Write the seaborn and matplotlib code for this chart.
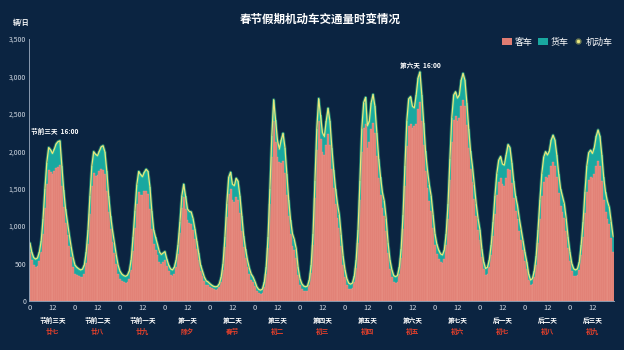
import numpy as np
import pandas as pd
import matplotlib
matplotlib.use("Agg")
import matplotlib.pyplot as plt
import matplotlib.transforms as mtrans
from matplotlib.patches import Patch
from matplotlib.lines import Line2D
import seaborn as sns

# ---------------- data ----------------
day_names = ["节前三天", "节前二天", "节前一天", "第一天", "第二天", "第三天", "第四天",
             "第五天", "第六天", "第七天", "后一天", "后二天", "后三天"]
lunar_names = ["廿七", "廿八", "廿九", "除夕", "春节", "初二", "初三",
               "初四", "初五", "初六", "初七", "初八", "初九"]
hour_tick_labels = ["0", "12"]

# hourly total motor-vehicle volume (机动车), one row per day, 24 hours each
motor_by_day = [
    [775, 650, 580, 560, 575, 650, 800, 1100, 1500, 1850, 2050, 2020, 1970, 2030, 2100, 2130, 2140, 1800, 1480, 1230, 1050, 880, 720, 580],
    [480, 450, 430, 415, 425, 480, 650, 950, 1400, 1800, 1995, 1960, 1940, 2000, 2060, 2075, 1990, 1730, 1400, 1140, 950, 780, 620, 480],
    [400, 360, 340, 330, 345, 400, 550, 850, 1200, 1550, 1730, 1690, 1660, 1720, 1760, 1730, 1520, 1200, 950, 850, 760, 660, 620, 640],
    [660, 560, 480, 430, 415, 450, 550, 750, 1050, 1400, 1560, 1400, 1230, 1195, 1190, 1100, 960, 800, 640, 480, 400, 320, 270, 255],
    [230, 210, 195, 190, 195, 230, 320, 500, 850, 1300, 1650, 1720, 1560, 1540, 1640, 1600, 1400, 1130, 870, 690, 550, 440, 360, 320],
    [260, 190, 155, 145, 160, 250, 450, 850, 1500, 2200, 2690, 2420, 2150, 2030, 2150, 2240, 2050, 1700, 1350, 1080, 900, 820, 700, 450],
    [300, 230, 200, 190, 200, 280, 480, 900, 1600, 2300, 2705, 2480, 2250, 2195, 2400, 2575, 2400, 2050, 1750, 1500, 1300, 1150, 880, 600],
    [420, 300, 240, 225, 240, 330, 550, 950, 1600, 2300, 2650, 2720, 2340, 2400, 2650, 2760, 2600, 2250, 1900, 1650, 1450, 1330, 1100, 780],
    [550, 420, 340, 325, 340, 450, 700, 1150, 1800, 2400, 2700, 2730, 2600, 2580, 2750, 2980, 3060, 2750, 2380, 2000, 1750, 1550, 1400, 1150],
    [900, 760, 680, 630, 615, 680, 900, 1300, 1900, 2450, 2750, 2795, 2710, 2750, 2950, 3040, 2950, 2650, 2300, 2000, 1800, 1550, 1300, 1100],
    [950, 700, 520, 435, 450, 550, 750, 1050, 1400, 1700, 1880, 1930, 1830, 1815, 1950, 2090, 2050, 1850, 1600, 1400, 1280, 1100, 950, 800],
    [650, 520, 360, 280, 300, 400, 600, 950, 1350, 1700, 1920, 1995, 1950, 2000, 2150, 2215, 2150, 1950, 1700, 1500, 1400, 1300, 1100, 850],
    [650, 500, 430, 415, 430, 520, 750, 1050, 1450, 1800, 1980, 2015, 1970, 2050, 2200, 2285, 2200, 1950, 1650, 1450, 1330, 1250, 1050, 860],
]

# hourly truck volume (货车)
truck_by_day = [
    [120, 105, 100, 100, 105, 120, 150, 200, 255, 290, 300, 300, 270, 290, 320, 340, 320, 270, 220, 190, 170, 150, 135, 125],
    [115, 100, 95, 95, 100, 115, 145, 190, 240, 270, 290, 290, 255, 270, 300, 320, 300, 255, 210, 175, 160, 145, 130, 120],
    [110, 95, 90, 90, 95, 105, 135, 180, 225, 255, 270, 270, 240, 255, 285, 300, 285, 240, 195, 165, 150, 135, 120, 115],
    [110, 95, 85, 80, 80, 85, 100, 120, 140, 155, 165, 165, 150, 150, 160, 150, 130, 110, 90, 75, 65, 55, 50, 45],
    [45, 40, 38, 38, 40, 45, 60, 90, 130, 180, 220, 230, 210, 220, 245, 250, 230, 190, 150, 120, 100, 85, 75, 70],
    [65, 55, 50, 50, 55, 65, 90, 140, 210, 270, 280, 300, 230, 170, 300, 370, 340, 280, 220, 180, 160, 140, 120, 100],
    [90, 75, 65, 60, 62, 70, 100, 150, 220, 280, 300, 320, 260, 245, 310, 340, 320, 280, 240, 210, 190, 170, 150, 120],
    [100, 85, 75, 70, 72, 80, 110, 170, 250, 310, 340, 360, 300, 270, 350, 385, 360, 310, 260, 230, 210, 190, 170, 140],
    [120, 100, 90, 85, 88, 95, 130, 190, 270, 330, 360, 370, 290, 245, 380, 420, 400, 340, 290, 260, 240, 220, 200, 170],
    [150, 130, 120, 110, 110, 120, 150, 210, 280, 320, 330, 330, 300, 310, 340, 350, 340, 300, 260, 230, 210, 190, 170, 150],
    [130, 110, 95, 85, 88, 100, 130, 180, 240, 280, 290, 290, 270, 280, 310, 320, 305, 270, 230, 200, 180, 160, 140, 120],
    [110, 95, 80, 70, 72, 85, 120, 180, 250, 300, 330, 335, 310, 320, 345, 355, 340, 300, 260, 230, 210, 190, 165, 140],
    [120, 100, 90, 85, 88, 100, 140, 200, 280, 340, 360, 360, 330, 350, 400, 420, 400, 350, 300, 260, 240, 220, 210, 200],
]

annotations = [("节前三天  16:00", 0, 13, 2270), ("第六天  16:00", 8, 16, 3140)]

# ---------------- frame ----------------
motor = np.concatenate(motor_by_day)
truck = np.concatenate(truck_by_day)
car = motor - truck
hours = np.arange(len(motor))
df = pd.DataFrame({"hour": hours, "机动车": motor, "货车": truck, "客车": car})

BG = "#0b2441"
SALMON = "#e07c72"
STRIPE = "#eea094"
TEAL = "#19a8a0"
LINE = "#e8e67c"
AXIS = "#8a9bb0"
TXT = "#d0d8e2"

sns.set_theme(style="dark")
plt.rcParams["font.family"] = ["Noto Sans CJK SC", "DejaVu Sans"]
plt.rcParams["axes.unicode_minus"] = False

fig = plt.figure(figsize=(6.24, 3.5), dpi=100, facecolor=BG)
ax = fig.add_axes([29 / 624, 1 - 301 / 350, 585 / 624, 262 / 350])
ax.set_facecolor(BG)

sns.barplot(data=df, x="hour", y="机动车", native_scale=True, width=1.0,
            color=TEAL, saturation=1, errorbar=None, linewidth=0, ax=ax)
sns.barplot(data=df, x="hour", y="客车", native_scale=True, width=1.0,
            color=SALMON, saturation=1, errorbar=None, edgecolor=STRIPE,
            linewidth=0.25, ax=ax)
sns.lineplot(data=df, x="hour", y="机动车", color="#2fcf9a", linewidth=2.2,
             alpha=0.5, ax=ax)
sns.lineplot(data=df, x="hour", y="机动车", color=LINE, linewidth=0.9, ax=ax)

ax.set_xlim(-0.5, len(hours) - 0.5)
ax.set_ylim(0, 3500)
ax.set_xlabel("")
ax.set_ylabel("")
ax.grid(False)

xt = list(range(0, len(hours), 12))
ax.set_xticks(xt)
ax.set_xticklabels([hour_tick_labels[(t // 12) % 2] for t in xt], color=TXT, fontsize=5.5)
yt = list(range(0, 3501, 500))
ax.set_yticks(yt)
ax.set_yticklabels([f"{v:,}" for v in yt], color=TXT, fontsize=5)
ax.tick_params(axis="both", length=0, pad=2)

for s in ["top", "right"]:
    ax.spines[s].set_visible(False)
for s in ["left", "bottom"]:
    ax.spines[s].set_visible(True)
    ax.spines[s].set_color(AXIS)
    ax.spines[s].set_linewidth(0.7)

trans = mtrans.blended_transform_factory(ax.transData, ax.transAxes)
for i, (dn, ln) in enumerate(zip(day_names, lunar_names)):
    xc = i * 24 + 12
    ax.text(xc, -0.073, dn, transform=trans, ha="center", va="center",
            color="white", fontsize=4.8, fontweight="bold")
    ax.text(xc, -0.118, ln, transform=trans, ha="center", va="center",
            color="#e5402b", fontsize=4.8, fontweight="bold")

for txt, d, h, v in annotations:
    ax.text(d * 24 + h, v, txt, ha="center", va="center", color="white",
            fontsize=4.8, fontweight="bold")

fig.text(320 / 624, 1 - 19.5 / 350, "春节假期机动车交通量时变情况", ha="center",
         va="center", color="white", fontsize=8.3, fontweight="bold")
fig.text(21 / 624, 1 - 22 / 350, "辆/日", ha="center", va="center",
         color="white", fontsize=5, fontweight="bold")

handles = [Patch(facecolor=SALMON, edgecolor="none"),
           Patch(facecolor=TEAL, edgecolor="none"),
           Line2D([], [], marker="o", linestyle="none", markersize=3.5,
                  markerfacecolor=LINE, markeredgecolor="#6b7a55")]
fig.legend(handles, ["客车", "货车", "机动车"], loc="center right",
           bbox_to_anchor=(616 / 624, 1 - 42 / 350), ncol=3, frameon=False,
           fontsize=6.5, labelcolor="white", handlelength=1.1, handleheight=0.7,
           handletextpad=0.3, columnspacing=0.5, borderaxespad=0)

fig.savefig("out.png", dpi=100, facecolor=BG)
